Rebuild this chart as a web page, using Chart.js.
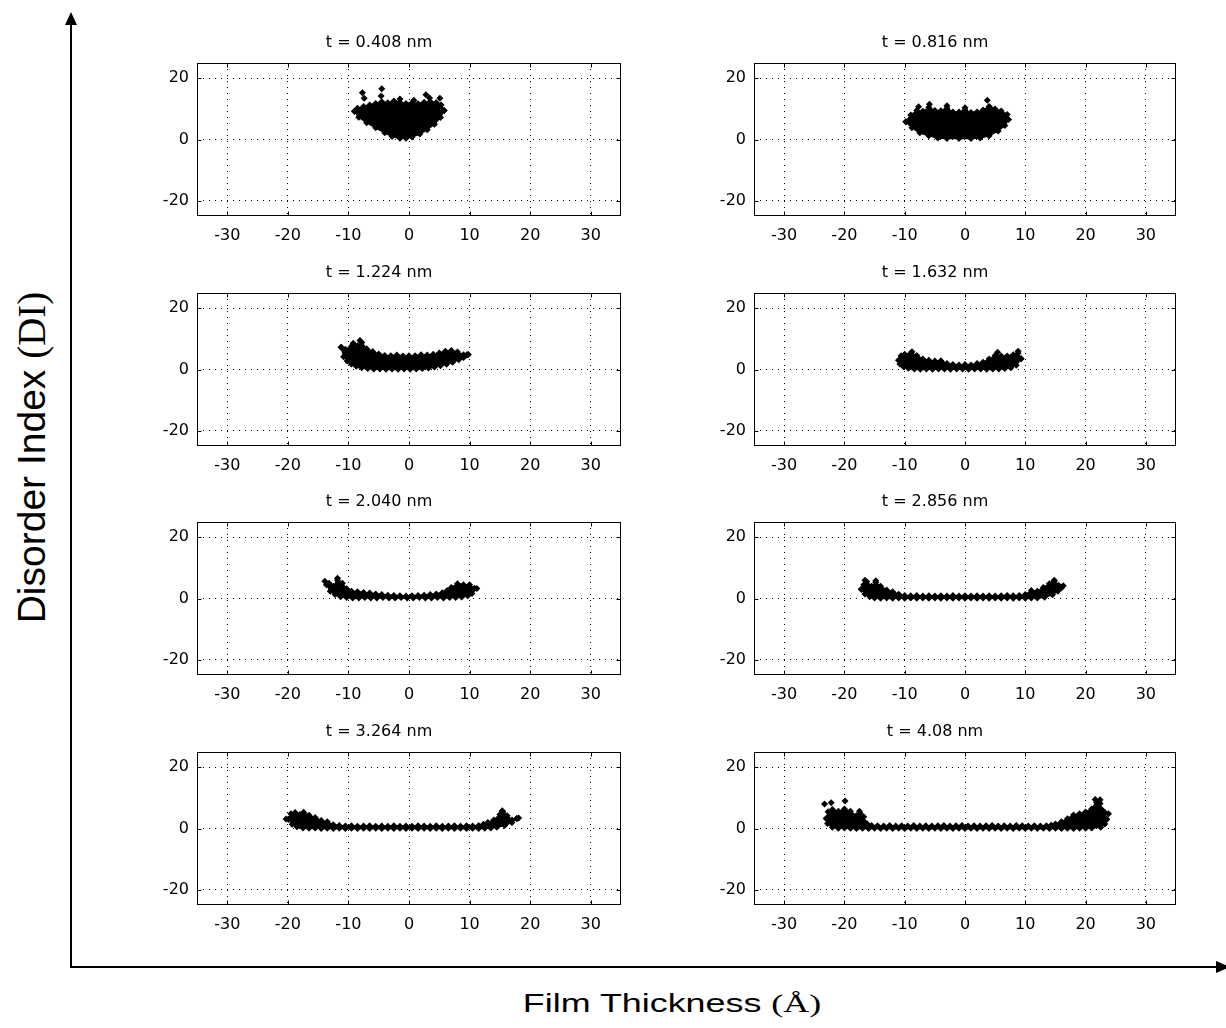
<!DOCTYPE html>
<html>
<head>
<meta charset="utf-8">
<script src="https://cdn.jsdelivr.net/npm/chart.js@4.4.0/dist/chart.umd.min.js"></script>
<style>
  body { margin: 0; background: #fff; }
  #page { position: relative; width: 1226px; height: 1028px; overflow: hidden; background: #fff; }
  .panel { position: absolute; }
  .lab { position: absolute; font-family: 'Liberation Sans', Arial, sans-serif; color: #000; white-space: nowrap; text-align: center; }
  .serif { font-family: 'Liberation Serif', 'Times New Roman', serif; }
  #ylab { left: -219px; top: 438px; width: 500px; height: 39px; line-height: 39px; font-size: 39px; transform: rotate(-90deg); }
  #xlab { left: 372px; top: 990px; width: 600px; height: 26px; line-height: 26px; font-size: 26px; transform: scaleX(1.38); }
</style>
</head>
<body>
<div id="page">
  <svg width="1226" height="1028" style="position:absolute;left:0;top:0">
    <line x1="71" y1="968" x2="71" y2="22" stroke="#000" stroke-width="2"/>
    <polygon points="71,12 65,25 77,25" fill="#000"/>
    <line x1="70" y1="967" x2="1218" y2="967" stroke="#000" stroke-width="2"/>
    <polygon points="1230,967 1216,961 1216,973" fill="#000"/>
  </svg>
  <div id="ylab" class="lab">Disorder Index <span class="serif">(DI)</span></div>
  <div id="xlab" class="lab">Film Thickness <span class="serif">(Å)</span></div>
</div>
<script>
// axis ticks
const xTicks = [-30, -20, -10, 0, 10, 20, 30];
const yTicks = [-20, 0, 20];
const times = ['0.408', '0.816', '1.224', '1.632', '2.040', '2.856', '3.264', '4.08'];

// each cloud: upper edge, lower edge, loose points  [x, DI]
const upper0408 = [[-9,9.2],[-8.5,10.2],[-7.5,10.8],[-6.5,11.3],[-5.5,11.8],[-4.5,12.3],[-3.5,12],[-2.5,12.6],[-1.5,12.2],[-0.5,11.8],[0.5,12],[1.5,11.7],[2.5,12.2],[3.5,12.4],[4.5,12],[5.3,11.3],[5.8,9.5]];
const lower0408 = [[-9,9.2],[-8.3,7.3],[-7,5.5],[-5.5,3.8],[-4,2.2],[-2.8,1],[-1.5,0.4],[-0.5,0.4],[0.5,0.8],[1.8,1.8],[3,3.2],[4.2,5],[5.2,7.2],[5.8,9.5]];
const stray0408 = [[-7.7,15.3],[-7.4,13.5],[-4.5,16.6],[-4.6,14.2],[2.8,14.6],[3.4,13.6],[5.1,13.5],[-1.5,13.2],[0.8,12.8]];

const upper0816 = [[-9.8,5.8],[-9,8],[-8,9.5],[-7,9.2],[-6,10.5],[-5,9.5],[-4,9.4],[-3,10.2],[-2,9],[-1,9],[0,9.6],[1,8.8],[2,9],[3,9.6],[4,10.8],[5,10],[6,9.3],[7,8.2],[7.2,6.5]];
const lower0816 = [[-9.8,5.8],[-8.8,3.8],[-7.5,2.2],[-6,1.2],[-4.5,0.5],[-3,0.3],[-1,0.3],[1,0.3],[2.5,0.5],[4,1.2],[5.5,2.8],[6.6,4.6],[7.2,6.5]];
const stray0816 = [[-7.7,10.7],[-5.9,11.5],[-3,11],[0,10.4],[3.7,12.8]];

const upper1224 = [[-11.2,7.3],[-10.5,6.6],[-9.5,7.6],[-8.5,7.8],[-7.8,8.8],[-7,6.8],[-6,5.9],[-5,5.1],[-4,4.6],[-3,4.5],[-2,4.7],[-1,4.4],[0,4.5],[1,4.5],[2,4.8],[3,4.7],[4,5],[5,5.4],[6,6],[7,6.2],[8,5.7],[9,4.8],[9.6,4.8]];
const lower1224 = [[-11.2,7.3],[-10.8,4.2],[-10.2,2.8],[-9.5,1.8],[-8.7,1.1],[-7.8,0.6],[-6.8,0.3],[-5.8,0.2],[-4.8,0.2],[-3.8,0.1],[-2.8,0.2],[-1.8,0.1],[-0.8,0.2],[0.2,0.1],[1.2,0.2],[2.2,0.3],[3.2,0.5],[4.2,0.8],[5.2,1.2],[6.2,1.7],[7.2,2.4],[8.2,3.2],[9,3.9],[9.6,4.8]];
const stray1224 = [[-9.2,8.6],[-8.1,9.5],[9.8,4.9]];

const upper1632 = [[-11,3],[-10.6,4.5],[-10,5],[-9,5.3],[-8,4.6],[-7,3.4],[-6,3],[-5,2.8],[-4,2.9],[-3,2],[-2,1.6],[-1,1.5],[0,1.6],[1,1.5],[2,2],[3,2.4],[4,3.4],[5,4.6],[6,4.4],[7,4.4],[8,4.8],[8.8,5.3],[9.3,3.5]];
const lower1632 = [[-11,3],[-10.8,1.8],[-10.2,0.9],[-9.4,0.4],[-8.4,0.2],[-7.4,0.1],[-6.4,0.2],[-5.4,0.1],[-4.4,0.2],[-3.4,0.2],[-2.4,0.1],[-1.4,0.2],[-0.4,0.2],[0.6,0.1],[1.6,0.2],[2.6,0.2],[3.6,0.1],[4.6,0.2],[5.6,0.2],[6.6,0.3],[7.6,0.6],[8.5,1.4],[9.3,3.5]];
const stray1632 = [[-8.8,5.8],[5.4,5.6],[8.8,6]];

const upper2040 = [[-13.6,4.5],[-13.2,5],[-12.5,4],[-11.8,6],[-11,5],[-10.3,3.2],[-9.5,2.4],[-8.5,2.2],[-7.5,2],[-6.5,1.8],[-5.5,1.5],[-4.5,1.3],[-3.5,1.1],[-2.5,1],[-1.5,0.9],[-0.5,0.8],[0.5,0.9],[1.5,1],[2.5,1.1],[3.5,1.3],[4.5,1.5],[5.5,1.9],[6.3,2.6],[7,3.6],[8,4.8],[9,4.5],[10,4.5],[10.8,3.3]];
const lower2040 = [[-13.6,4.5],[-13,2.4],[-12.2,1.3],[-11.3,0.6],[-10.3,0.3],[-9.3,0.2],[-8.3,0.2],[-7.3,0.3],[-6.3,0.2],[-5.3,0.2],[-4.3,0.3],[-3.3,0.2],[-2.3,0.2],[-1.3,0.3],[-0.3,0.2],[0.7,0.2],[1.7,0.3],[2.7,0.2],[3.7,0.2],[4.7,0.3],[5.7,0.2],[6.7,0.3],[7.7,0.3],[8.7,0.5],[9.7,0.9],[10.4,1.6],[10.8,3.3]];
const stray2040 = [[-13.9,5.6],[-11.8,6.6],[11.2,3.3]];

const upper2856 = [[-17.2,3],[-16.8,4.5],[-16.3,5.5],[-15.5,4],[-14.8,5.2],[-14,4],[-13,2.8],[-12,2.2],[-11,1.4],[-10,1],[-9,0.9],[-8,1],[-7,0.8],[-6,0.9],[-5,0.8],[-4,0.9],[-3,0.8],[-2,1],[-1,0.8],[0,0.9],[1,0.8],[2,0.9],[3,0.8],[4,0.9],[5,0.8],[6,0.9],[7,1],[8,0.9],[9,1],[10,1.3],[11,2.6],[12,2.4],[13,3.6],[14,4.8],[14.8,5.6],[15.5,4.3],[16,3.5]];
const lower2856 = [[-17.2,3],[-16.6,1.5],[-15.8,0.6],[-15,0.2],[-14,0.1],[-13,0.2],[-12,0.1],[-11,0.2],[-10,0.1],[-9,0.2],[-8,0.1],[-7,0.2],[-6,0.1],[-5,0.2],[-4,0.1],[-3,0.2],[-2,0.1],[-1,0.2],[0,0.1],[1,0.2],[2,0.1],[3,0.2],[4,0.1],[5,0.2],[6,0.1],[7,0.2],[8,0.1],[9,0.2],[10,0.1],[11,0.2],[12,0.2],[13.2,0.4],[14.5,1.2],[15.4,2.4],[16,3.5]];
const stray2856 = [[-16.6,6],[-14.8,5.8],[14.8,6],[16.3,4.2]];

const upper3264 = [[-19.9,3],[-19.5,4.8],[-18.8,5.2],[-18,4.6],[-17.4,5.3],[-16.5,4.3],[-15.5,3.6],[-14.5,2.6],[-13.5,2.2],[-12.5,1.2],[-11.5,1],[-10.5,0.8],[-9.5,0.9],[-8.5,0.7],[-7.5,0.8],[-6.5,0.9],[-5.5,0.7],[-4.5,0.8],[-3.5,0.7],[-2.5,0.9],[-1.5,0.7],[-0.5,0.8],[0.5,0.7],[1.5,0.9],[2.5,0.8],[3.5,0.7],[4.5,0.9],[5.5,0.7],[6.5,0.8],[7.5,0.9],[8.5,0.7],[9.5,0.9],[10.5,0.8],[11.5,1],[12.3,1.4],[13,2],[14,2.8],[15,4.6],[15.5,5.4],[16.2,4.2],[17,2.8],[17.8,3.3]];
const lower3264 = [[-19.9,3],[-19.3,1.4],[-18.5,0.6],[-17.5,0.2],[-16.5,0.1],[-15.5,0.2],[-14.5,0],[-13.5,0.1],[-12.5,0],[-11.5,0.1],[-10.5,0],[-9.5,0.1],[-8.5,0],[-7.5,0.1],[-6.5,0],[-5.5,0.1],[-4.5,0],[-3.5,0.1],[-2.5,0],[-1.5,0.1],[-0.5,0],[0.5,0.1],[1.5,0],[2.5,0.1],[3.5,0],[4.5,0.1],[5.5,0],[6.5,0.1],[7.5,0],[8.5,0.1],[9.5,0],[10.5,0.1],[11.5,0],[12.5,0.1],[13.5,0.2],[14.5,0.4],[15.8,1],[17,2],[17.8,3.3]];
const stray3264 = [[-20.3,3.1],[15.4,5.8],[18.1,3.4]];

const upper4080 = [[-23,3.3],[-22.7,5.5],[-22,6.2],[-21,5.6],[-20,6.4],[-19,5.6],[-18,4.2],[-17.4,5],[-16.8,3.8],[-16.3,1.6],[-15.5,1],[-14.5,0.9],[-13.5,0.8],[-12.5,1],[-11.5,0.8],[-10.5,0.9],[-9.5,0.8],[-8.5,1],[-7.5,0.8],[-6.5,0.9],[-5.5,0.8],[-4.5,0.9],[-3.5,1],[-2.5,0.8],[-1.5,0.9],[-0.5,1],[0.5,0.8],[1.5,0.9],[2.5,0.8],[3.5,0.9],[4.5,1],[5.5,0.8],[6.5,0.9],[7.5,0.8],[8.5,1],[9.5,0.9],[10.5,0.8],[11.5,0.9],[12.5,0.8],[13.5,0.9],[14.3,1.1],[15,1.5],[16,2.2],[17,3.2],[18,4.4],[19,4.8],[20,5.4],[21,6.4],[21.8,8.6],[22.4,8.2],[22.8,6],[23.2,5.2],[23.5,3]];
const lower4080 = [[-23,3.3],[-22.8,1.6],[-22,0.4],[-21,0.1],[-20,0.2],[-19,0.1],[-18,0],[-17,0.1],[-16,0],[-15,0.1],[-14,0],[-13,0.1],[-12,0],[-11,0.1],[-10,0],[-9,0.1],[-8,0],[-7,0.1],[-6,0],[-5,0.1],[-4,0],[-3,0.1],[-2,0],[-1,0.1],[0,0],[1,0.1],[2,0],[3,0.1],[4,0],[5,0.1],[6,0],[7,0.1],[8,0],[9,0.1],[10,0],[11,0.1],[12,0],[13,0.1],[14,0],[15,0.1],[16,0],[17,0.1],[18,0],[19,0.1],[20,0.1],[21,0.2],[22.5,0.4],[23.2,1.5],[23.5,3]];
const stray4080 = [[-23.3,8],[-22.2,8.4],[-19.9,9],[21.6,9.5],[22.4,9.4],[-17.5,5.6],[23.8,4.8]];

const clouds = [
  [upper0408, lower0408, stray0408],
  [upper0816, lower0816, stray0816],
  [upper1224, lower1224, stray1224],
  [upper1632, lower1632, stray1632],
  [upper2040, lower2040, stray2040],
  [upper2856, lower2856, stray2856],
  [upper3264, lower3264, stray3264],
  [upper4080, lower4080, stray4080]
];

// layout of the plot boxes on the page
const colLeft = [197, 754];
const colWidth = [424, 422];
const rowTop = [63, 293, 522, 752];
const plotH = 153;
const padL = 60, padR = 20, padT = 35, padB = 40;

const tickFont = { family: 'DejaVu Sans', size: 16, weight: 'normal' };

// matlab style box with inward ticks
const boxPlugin = {
  id: 'box',
  afterDraw(chart) {
    const { ctx, chartArea: a, scales } = chart;
    const l = Math.round(a.left) + 0.5, t = Math.round(a.top) + 0.5;
    const r = Math.round(a.right) - 0.5, b = Math.round(a.bottom) - 0.5;
    ctx.save();
    ctx.strokeStyle = '#000';
    ctx.lineWidth = 1;
    ctx.strokeRect(l, t, r - l, b - t);
    ctx.beginPath();
    xTicks.forEach(v => {
      const px = Math.round(scales.x.getPixelForValue(v)) + 0.5;
      ctx.moveTo(px, b); ctx.lineTo(px, b - 4);
      ctx.moveTo(px, t); ctx.lineTo(px, t + 4);
    });
    yTicks.forEach(v => {
      const py = Math.round(scales.y.getPixelForValue(v)) + 0.5;
      ctx.moveTo(l, py); ctx.lineTo(l + 4, py);
      ctx.moveTo(r, py); ctx.lineTo(r - 4, py);
    });
    ctx.stroke();
    ctx.restore();
  }
};

const toXY = pts => pts.map(p => ({ x: p[0], y: p[1] }));
const dotStyle = {
  borderColor: '#000',
  backgroundColor: '#000',
  borderWidth: 1.5,
  pointStyle: 'rectRot',
  pointRadius: 3.5,
  pointBackgroundColor: '#000',
  pointBorderColor: '#000',
  pointBorderWidth: 0
};

const page = document.getElementById('page');

clouds.forEach((c, i) => {
  const col = i % 2, row = Math.floor(i / 2);
  const w = padL + colWidth[col] + padR;
  const h = padT + plotH + padB;
  const box = document.createElement('div');
  box.className = 'panel';
  box.style.left = (colLeft[col] - padL) + 'px';
  box.style.top = (rowTop[row] - padT) + 'px';
  const canvas = document.createElement('canvas');
  canvas.width = w;
  canvas.height = h;
  box.appendChild(canvas);
  page.appendChild(box);

  new Chart(canvas, {
    type: 'line',
    data: {
      datasets: [
        Object.assign({ data: toXY(c[0]), fill: '+1' }, dotStyle),
        Object.assign({ data: toXY(c[1]), fill: false }, dotStyle),
        Object.assign({ data: toXY(c[2]), showLine: false, fill: false }, dotStyle)
      ]
    },
    options: {
      responsive: false,
      animation: false,
      events: [],
      layout: { padding: { left: 0, right: padR, top: 0, bottom: 0 } },
      plugins: {
        legend: { display: false },
        tooltip: { enabled: false },
        title: {
          display: true,
          text: 't = ' + times[i] + ' nm',
          color: '#000',
          font: { family: 'DejaVu Sans', size: 16, weight: 'normal', lineHeight: 1.25 },
          padding: { top: 5, bottom: 10 }
        }
      },
      scales: {
        x: {
          type: 'linear',
          min: -35,
          max: 35,
          afterBuildTicks: ax => { ax.ticks = xTicks.map(v => ({ value: v })); },
          afterFit: ax => { ax.height = padB; },
          ticks: { color: '#000', font: tickFont, padding: 10, autoSkip: false, maxRotation: 0, callback: v => String(v) },
          grid: { color: '#000', lineWidth: 1, drawTicks: false },
          border: { display: false, dash: [1, 5] }
        },
        y: {
          min: -25,
          max: 25,
          afterBuildTicks: ax => { ax.ticks = yTicks.map(v => ({ value: v })); },
          afterFit: ax => { ax.width = padL; },
          ticks: { color: '#000', font: tickFont, padding: 8, autoSkip: false, callback: v => String(v) },
          grid: { color: '#000', lineWidth: 1, drawTicks: false },
          border: { display: false, dash: [1, 5] }
        }
      }
    },
    plugins: [boxPlugin]
  });
});
</script>
</body>
</html>
